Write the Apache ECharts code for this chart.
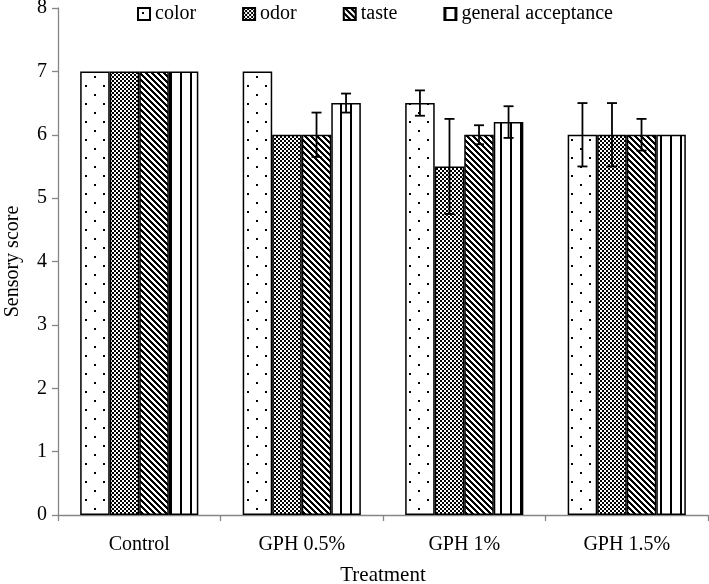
<!DOCTYPE html>
<html>
<head>
<meta charset="utf-8">
<script src="https://cdn.jsdelivr.net/npm/echarts@6/dist/echarts.min.js"></script>
<style>html,body{margin:0;padding:0;background:#fff;}#c{width:709px;height:584px;}</style>
</head>
<body>
<div id="c"></div>
<script>
// ---- data ----
var categories = ['Control', 'GPH 0.5%', 'GPH 1%', 'GPH 1.5%'];
var seriesNames = ['color', 'odor', 'taste', 'general acceptance'];
var colorScore = [7, 7, 6.5, 6];
var odorScore = [7, 6, 5.5, 6];
var tasteScore = [7, 6, 6, 6];
var gaScore = [7, 6.5, 6.2, 6];
var colorErr = [null, null, 0.2, 0.5];
var odorErr = [null, null, 0.75, 0.5];
var tasteErr = [null, 0.35, 0.15, 0.25];
var gaErr = [null, 0.15, 0.25, null];
var yTicks = [0, 1, 2, 3, 4, 5, 6, 7, 8];

// ---- patterns ----
function makeCanvas(w, h, draw) {
  var c = document.createElement('canvas');
  c.width = w; c.height = h;
  var ctx = c.getContext('2d');
  ctx.fillStyle = '#fff';
  ctx.fillRect(0, 0, w, h);
  ctx.fillStyle = '#000';
  draw(ctx, w, h);
  return c;
}
var dotPat = makeCanvas(18, 18, function (ctx) {
  ctx.fillRect(4, 4, 2, 2);
  ctx.fillRect(13, 13, 2, 2);
});
var checkPat = makeCanvas(4, 4, function (ctx) {
  ctx.fillRect(0, 0, 2, 2);
  ctx.fillRect(2, 2, 2, 2);
  ctx.fillRect(1, 1, 1, 1);
});
var diagPat = makeCanvas(6, 6, function (ctx, w, h) {
  for (var y = 0; y < h; y++) {
    for (var x = 0; x < w; x++) {
      var d = ((x - y) % w + w) % w;
      if (d < 3) ctx.fillRect(x, y, 1, 1);
    }
  }
});
var vertPat = makeCanvas(10, 4, function (ctx, w, h) {
  ctx.fillRect(0, 0, 2, h);
});
var patterns = [dotPat, checkPat, diagPat, vertPat];
var scores = [colorScore, odorScore, tasteScore, gaScore];
var errs = [colorErr, odorErr, tasteErr, gaErr];

var GAP = 0.273;
var FONT = '"Liberation Serif", "Times New Roman", serif';

var series = [];
for (var i = 0; i < 4; i++) {
  series.push({
    name: seriesNames[i],
    type: 'bar',
    data: scores[i],
    barGap: '0%',
    barCategoryGap: (GAP * 100) + '%',
    itemStyle: {
      color: { image: patterns[i], repeat: 'repeat' },
      borderColor: '#000',
      borderWidth: 1.5
    },
    emphasis: { disabled: true },
    z: 2
  });
}

var errData = [];
for (var s = 0; s < 4; s++) {
  for (var k = 0; k < categories.length; k++) {
    var e = errs[s][k];
    if (e != null) {
      errData.push([k, s, scores[s][k] - e, scores[s][k] + e]);
    }
  }
}

series.push({
  name: 'err',
  type: 'custom',
  data: errData,
  z: 10,
  silent: true,
  renderItem: function (params, api) {
    var ci = api.value(0), si = api.value(1);
    var lo = api.coord([ci, api.value(2)]);
    var hi = api.coord([ci, api.value(3)]);
    var catW = api.size([1, 0])[0];
    var bw = catW * (1 - GAP) / 4;
    var x = lo[0] - 2 * bw + (si + 0.5) * bw;
    var cap = 5;
    var st = { stroke: '#000', lineWidth: 1.8 };
    return {
      type: 'group',
      children: [
        { type: 'line', shape: { x1: x, y1: lo[1], x2: x, y2: hi[1] }, style: st },
        { type: 'line', shape: { x1: x - cap, y1: hi[1], x2: x + cap, y2: hi[1] }, style: st },
        { type: 'line', shape: { x1: x - cap, y1: lo[1], x2: x + cap, y2: lo[1] }, style: st }
      ]
    };
  },
  encode: { x: 0, y: 3 }
});

var chart = echarts.init(document.getElementById('c'), null, { renderer: 'canvas' });
chart.setOption({
  animation: false,
  backgroundColor: '#fff',
  textStyle: { fontFamily: FONT },
  legend: {
    data: seriesNames,
    left: 137,
    top: 4,
    itemWidth: 12,
    itemHeight: 12,
    itemGap: 46,
    padding: 0,
    icon: 'rect',
    textStyle: { fontFamily: FONT, fontSize: 20, color: '#000', padding: [0, 0, 0, 0] },
    selectedMode: false
  },
  grid: { left: 58, right: 1, top: 8, bottom: 69, containLabel: false, outerBoundsMode: 'none' },
  xAxis: {
    type: 'category',
    data: categories,
    name: 'Treatment',
    nameLocation: 'middle',
    nameGap: 50,
    nameTextStyle: { fontFamily: FONT, fontSize: 21, color: '#000' },
    axisLine: { lineStyle: { color: '#868686', width: 1.3 } },
    axisTick: { show: true, length: 6, lineStyle: { color: '#868686', width: 1.3 } },
    axisLabel: { fontFamily: FONT, fontSize: 20, color: '#000', margin: 20 }
  },
  yAxis: {
    type: 'value',
    min: yTicks[0],
    max: yTicks[yTicks.length - 1],
    interval: 1,
    name: 'Sensory score',
    nameLocation: 'middle',
    nameGap: 35,
    nameTextStyle: { fontFamily: FONT, fontSize: 20, color: '#000' },
    axisLine: { show: true, lineStyle: { color: '#868686', width: 1.3 } },
    axisTick: { show: true, length: 6, lineStyle: { color: '#868686', width: 1.3 } },
    axisLabel: { fontFamily: FONT, fontSize: 20, color: '#000', margin: 11 },
    splitLine: { show: false }
  },
  series: series
});
</script>
</body>
</html>
